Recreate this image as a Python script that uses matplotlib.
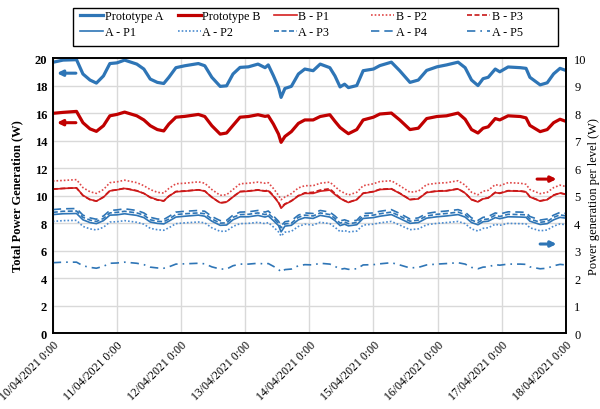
"""Total and per-level power generation for the two prototypes, 10-18 April 2021."""
import numpy as np
import pandas as pd
import matplotlib
matplotlib.use('Agg')
import matplotlib.pyplot as plt
import matplotlib.dates as mdates
from matplotlib.patches import Rectangle

plt.rcParams['font.family'] = ['Liberation Serif', 'DejaVu Serif']

# elapsed time since 10/04/2021 0:00, in days
t_days = [0.00, 0.16, 0.37, 0.47, 0.58, 0.68, 0.79, 0.89,
          1.00, 1.12, 1.31, 1.42, 1.52, 1.63, 1.73, 1.81, 1.92,
          2.06, 2.27, 2.37, 2.48, 2.61, 2.71, 2.81, 2.92,
          3.05, 3.20, 3.31, 3.36, 3.44, 3.52, 3.56, 3.62, 3.72, 3.83, 3.93,
          4.06, 4.17, 4.32, 4.40, 4.48, 4.55, 4.61, 4.74, 4.84,
          5.00, 5.10, 5.28, 5.41, 5.57, 5.70, 5.83, 5.99,
          6.14, 6.32, 6.43, 6.53, 6.63, 6.71, 6.79, 6.90, 6.97,
          7.10, 7.29, 7.38, 7.44, 7.60, 7.71, 7.81, 7.91, 8.00]

# totals (W), left axis
proto_a = [19.69, 19.85, 19.88, 18.84, 18.40, 18.18, 18.70, 19.60,
           19.65, 19.85, 19.56, 19.20, 18.47, 18.23, 18.15, 18.60, 19.30,
           19.44, 19.60, 19.44, 18.60, 17.94, 17.98, 18.84, 19.32,
           19.36, 19.56, 19.30, 19.50, 18.72, 17.86, 17.14, 17.79, 17.94, 18.84, 19.20,
           19.08, 19.56, 19.30, 18.70, 17.90, 18.10, 17.85, 18.00, 19.08,
           19.20, 19.45, 19.70, 19.08, 18.23, 18.40, 19.10, 19.36,
           19.50, 19.70, 19.30, 18.40, 18.00, 18.50, 18.60, 19.20, 19.00,
           19.35, 19.30, 19.25, 18.60, 18.05, 18.20, 18.85, 19.25, 19.10]
proto_b = [15.98, 16.05, 16.12, 15.30, 14.85, 14.67, 15.08, 15.80,
           15.90, 16.07, 15.80, 15.50, 15.08, 14.80, 14.70, 15.20, 15.70,
           15.76, 15.90, 15.75, 15.08, 14.47, 14.55, 15.10, 15.70,
           15.75, 15.88, 15.76, 15.80, 15.20, 14.47, 13.87, 14.30, 14.65, 15.25, 15.50,
           15.50, 15.75, 15.88, 15.40, 14.95, 14.70, 14.50, 14.80, 15.50,
           15.70, 15.93, 16.00, 15.50, 14.80, 14.90, 15.60, 15.75,
           15.80, 16.00, 15.55, 14.80, 14.55, 14.90, 15.00, 15.60, 15.50,
           15.80, 15.75, 15.65, 15.10, 14.65, 14.80, 15.30, 15.55, 15.40]

# per-level generation (W), right axis
b_p1 = [5.23, 5.26, 5.28, 5.01, 4.86, 4.80, 4.94, 5.17,
        5.21, 5.26, 5.17, 5.08, 4.94, 4.85, 4.81, 4.98, 5.14,
        5.16, 5.21, 5.16, 4.94, 4.74, 4.77, 4.95, 5.14,
        5.16, 5.20, 5.16, 5.17, 4.98, 4.74, 4.54, 4.68, 4.80, 4.99, 5.08,
        5.08, 5.16, 5.20, 5.04, 4.90, 4.81, 4.75, 4.85, 5.08,
        5.14, 5.22, 5.24, 5.08, 4.85, 4.88, 5.11, 5.16,
        5.17, 5.24, 5.09, 4.85, 4.77, 4.88, 4.91, 5.11, 5.08,
        5.17, 5.16, 5.13, 4.95, 4.80, 4.85, 5.01, 5.09, 5.04]
b_p2 = [5.53, 5.55, 5.58, 5.29, 5.14, 5.08, 5.22, 5.47,
        5.50, 5.56, 5.47, 5.36, 5.22, 5.12, 5.09, 5.26, 5.43,
        5.45, 5.50, 5.45, 5.22, 5.01, 5.03, 5.22, 5.43,
        5.45, 5.49, 5.45, 5.47, 5.26, 5.01, 4.85, 4.95, 5.07, 5.28, 5.36,
        5.36, 5.45, 5.49, 5.33, 5.17, 5.09, 5.02, 5.12, 5.36,
        5.43, 5.51, 5.54, 5.36, 5.12, 5.16, 5.40, 5.45,
        5.47, 5.54, 5.38, 5.12, 5.03, 5.16, 5.19, 5.40, 5.36,
        5.47, 5.45, 5.41, 5.22, 5.07, 5.12, 5.29, 5.38, 5.33]
b_p3 = [5.24, 5.26, 5.28, 5.00, 4.85, 4.80, 4.95, 5.18,
        5.21, 5.27, 5.18, 5.08, 4.93, 4.84, 4.80, 4.98, 5.15,
        5.17, 5.21, 5.17, 4.94, 4.73, 4.76, 4.96, 5.15,
        5.17, 5.21, 5.17, 5.20, 5.00, 4.76, 4.58, 4.70, 4.81, 5.00, 5.10,
        5.12, 5.20, 5.25, 5.08, 4.92, 4.82, 4.76, 4.86, 5.09,
        5.15, 5.23, 5.25, 5.09, 4.86, 4.89, 5.12, 5.17,
        5.18, 5.25, 5.10, 4.86, 4.78, 4.89, 4.92, 5.12, 5.09,
        5.18, 5.17, 5.14, 4.96, 4.81, 4.86, 5.02, 5.10, 5.05]
a_p1 = [4.31, 4.34, 4.35, 4.12, 4.02, 3.98, 4.09, 4.29,
        4.30, 4.34, 4.28, 4.20, 4.04, 3.99, 3.97, 4.07, 4.22,
        4.25, 4.29, 4.25, 4.07, 3.92, 3.93, 4.12, 4.23,
        4.23, 4.28, 4.22, 4.26, 4.09, 3.91, 3.68, 3.89, 3.92, 4.12, 4.20,
        4.17, 4.28, 4.22, 4.09, 3.91, 3.96, 3.90, 3.94, 4.17,
        4.20, 4.25, 4.31, 4.17, 3.99, 4.02, 4.18, 4.23,
        4.26, 4.31, 4.22, 4.02, 3.94, 4.05, 4.07, 4.20, 4.16,
        4.23, 4.22, 4.21, 4.07, 3.95, 3.98, 4.12, 4.21, 4.18]
a_p2 = [4.06, 4.09, 4.10, 3.88, 3.79, 3.75, 3.85, 4.04,
        4.05, 4.09, 4.03, 3.96, 3.81, 3.76, 3.74, 3.83, 3.98,
        4.01, 4.04, 4.01, 3.83, 3.70, 3.71, 3.88, 3.98,
        3.99, 4.03, 3.98, 4.02, 3.86, 3.68, 3.53, 3.67, 3.70, 3.88, 3.96,
        3.93, 4.03, 3.98, 3.85, 3.69, 3.73, 3.68, 3.71, 3.93,
        3.96, 4.01, 4.06, 3.93, 3.76, 3.79, 3.94, 3.99,
        4.02, 4.06, 3.98, 3.79, 3.71, 3.81, 3.83, 3.96, 3.92,
        3.99, 3.98, 3.97, 3.83, 3.72, 3.75, 3.89, 3.97, 3.94]
a_p3 = [4.39, 4.43, 4.44, 4.21, 4.11, 4.06, 4.17, 4.37,
        4.39, 4.43, 4.37, 4.29, 4.12, 4.07, 4.05, 4.15, 4.31,
        4.34, 4.37, 4.34, 4.15, 4.00, 4.01, 4.21, 4.31,
        4.32, 4.37, 4.31, 4.35, 4.18, 3.99, 3.83, 3.97, 4.00, 4.21, 4.29,
        4.26, 4.37, 4.31, 4.17, 4.00, 4.04, 3.98, 4.02, 4.26,
        4.29, 4.34, 4.40, 4.26, 4.07, 4.11, 4.26, 4.32,
        4.35, 4.40, 4.31, 4.11, 4.02, 4.13, 4.15, 4.29, 4.24,
        4.32, 4.31, 4.30, 4.15, 4.03, 4.06, 4.21, 4.30, 4.26]
a_p4 = [4.49, 4.52, 4.53, 4.29, 4.19, 4.14, 4.26, 4.46,
        4.48, 4.52, 4.46, 4.37, 4.21, 4.15, 4.13, 4.24, 4.40,
        4.43, 4.46, 4.43, 4.24, 4.09, 4.10, 4.29, 4.40,
        4.41, 4.46, 4.40, 4.44, 4.26, 4.07, 3.90, 4.05, 4.09, 4.29, 4.37,
        4.35, 4.46, 4.40, 4.26, 4.08, 4.12, 4.07, 4.10, 4.35,
        4.37, 4.43, 4.49, 4.35, 4.15, 4.19, 4.35, 4.41,
        4.44, 4.49, 4.40, 4.19, 4.10, 4.21, 4.24, 4.37, 4.33,
        4.41, 4.40, 4.39, 4.24, 4.11, 4.15, 4.29, 4.39, 4.35]
a_p5 = [2.56, 2.58, 2.58, 2.45, 2.39, 2.36, 2.43, 2.54,
        2.55, 2.58, 2.54, 2.49, 2.40, 2.37, 2.36, 2.41, 2.51,
        2.52, 2.54, 2.52, 2.41, 2.33, 2.33, 2.45, 2.51,
        2.51, 2.54, 2.51, 2.53, 2.43, 2.32, 2.22, 2.31, 2.33, 2.45, 2.49,
        2.48, 2.54, 2.51, 2.43, 2.32, 2.35, 2.32, 2.34, 2.48,
        2.49, 2.52, 2.56, 2.48, 2.37, 2.39, 2.48, 2.51,
        2.53, 2.56, 2.51, 2.39, 2.34, 2.40, 2.41, 2.49, 2.47,
        2.51, 2.51, 2.50, 2.41, 2.34, 2.36, 2.45, 2.50, 2.48]

START = pd.Timestamp('2021-04-10 00:00')
END = pd.Timestamp('2021-04-18 00:00')
t = START + pd.to_timedelta(t_days, unit='D')

BLUE = '#2E75B6'
RED = '#C00000'

fig = plt.figure(figsize=(6.0, 4.1), dpi=100)
ax = fig.add_axes([0.088, 0.185, 0.855, 0.671])
ax2 = ax.twinx()

h_pa, = ax.plot(t, proto_a, color=BLUE, lw=2.3, label='Prototype A')
h_pb, = ax.plot(t, proto_b, color=RED, lw=2.3, label='Prototype B')

h_b1, = ax2.plot(t, b_p1, color='#D42020', lw=1.2, label='B - P1')
h_b2, = ax2.plot(t, b_p2, color='#E04848', lw=1.2, ls=(0, (1, 1.2)), label='B - P2')
h_b3, = ax2.plot(t, b_p3, color='#C81818', lw=1.2, ls=(0, (3, 1.5)), label='B - P3')
h_a1, = ax2.plot(t, a_p1, color=BLUE, lw=1.2, label='A - P1')
h_a2, = ax2.plot(t, a_p2, color='#4A8BD0', lw=1.2, ls=(0, (1, 1.2)), label='A - P2')
h_a3, = ax2.plot(t, a_p3, color=BLUE, lw=1.2, ls=(0, (3, 1.5)), label='A - P3')
h_a4, = ax2.plot(t, a_p4, color=BLUE, lw=1.2, ls=(0, (5, 3)), label='A - P4')
h_a5, = ax2.plot(t, a_p5, color=BLUE, lw=1.2, ls=(0, (5, 3, 1, 3)), label='A - P5')

ax.set_xlim(START, END)
ax.set_ylim(0, 20)
ax.set_yticks(np.arange(0, 21, 2))
ax2.set_ylim(0, 10)
ax2.set_yticks(np.arange(0, 11, 1))

ax.xaxis.set_major_locator(mdates.DayLocator())
ax.xaxis.set_major_formatter(mdates.DateFormatter('%d/%m/%Y 0:00'))
for lbl in ax.get_xticklabels():
    lbl.set_rotation(45)
    lbl.set_ha('right')
    lbl.set_rotation_mode('anchor')
    lbl.set_fontsize(8.5)

ax.grid(True, color='#D9D9D9', lw=1.0)
ax.set_axisbelow(True)
ax.tick_params(axis='both', length=0, pad=4)
ax.tick_params(axis='y', labelsize=9)
for lbl in ax.get_yticklabels():
    lbl.set_fontweight('bold')
ax2.tick_params(axis='y', length=0, labelsize=9, pad=6)

for a in (ax, ax2):
    for sp in a.spines.values():
        sp.set_color('black')
        sp.set_linewidth(1.2)

ax.set_ylabel('Total Power Generation (W)', fontsize=9, fontweight='bold', labelpad=8)
ax2.set_ylabel('Power generation per level (W)', fontsize=9, rotation=90, labelpad=1)

# arrows pointing each group to its axis
arrow = dict(arrowstyle='-|>', lw=2.2, mutation_scale=8, shrinkA=0, shrinkB=0)
ax.annotate('', xy=(0.008, 0.945), xytext=(0.045, 0.945), xycoords='axes fraction',
            arrowprops=dict(arrow, color=BLUE))
ax.annotate('', xy=(0.008, 0.765), xytext=(0.045, 0.765), xycoords='axes fraction',
            arrowprops=dict(arrow, color=RED))
ax.annotate('', xy=(0.982, 0.56), xytext=(0.944, 0.56), xycoords='axes fraction',
            arrowprops=dict(arrow, color=RED))
ax.annotate('', xy=(0.982, 0.324), xytext=(0.950, 0.324), xycoords='axes fraction',
            arrowprops=dict(arrow, color=BLUE))

# legend: five evenly spaced columns of two entries inside one frame
columns = [(h_pa, h_a1), (h_pb, h_a2), (h_b1, h_a3), (h_b2, h_a4), (h_b3, h_a5)]
col_x = [0.133, 0.296, 0.456, 0.619, 0.779]
for cx, pair in zip(col_x, columns):
    fig.legend(handles=list(pair), labels=[h.get_label() for h in pair],
               loc='upper left', bbox_to_anchor=(cx, 0.972), frameon=False,
               fontsize=8.7, handlelength=1.9, handletextpad=0.15,
               borderpad=0, borderaxespad=0, labelspacing=0.3)
fig.patches.append(Rectangle((0.1217, 0.886), 0.808, 0.092, transform=fig.transFigure,
                             fill=False, edgecolor='black', lw=1.0))

fig.savefig('out.png', dpi=100)
